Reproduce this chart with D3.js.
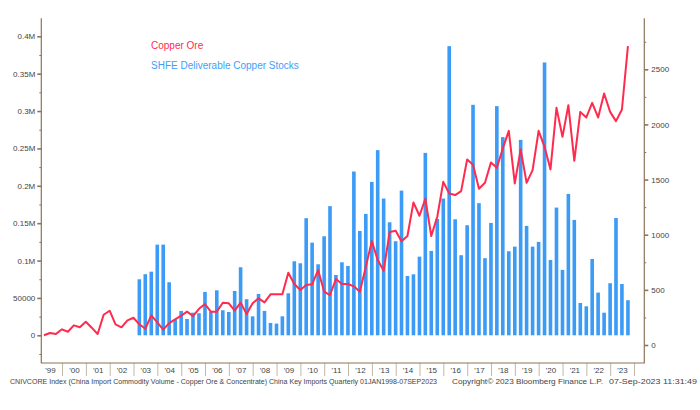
<!DOCTYPE html>
<html>
<head>
<meta charset="utf-8">
<script src="https://cdn.jsdelivr.net/npm/d3@7"></script>
<style>
  body { margin: 0; background: #fff; }
  svg { display: block; font-family: "Liberation Sans", Arial, sans-serif; }
</style>
</head>
<body>
<div id="chart"></div>
<script>
// --- DATA ---
// Copper ore & concentrate imports, quarterly, 1999Q1 .. 2023Q3 (left axis)
const oreStartYear = 1999;
const oreValues = [
    0, 3100, 1700, 8000,
    4800, 13300, 10700, 18200,
    10200, 1700, 27500, 32900,
    14700, 10700, 20000, 23500,
    14700, 8800, 26700, 17400,
    7500, 16400, 21400, 26200,
    31600, 25800, 35500, 41800,
    31600, 31600, 43600, 42800,
    32900, 43600, 28500, 42800,
    49500, 44100, 54800, 54800,
    54800, 83700, 68600, 60600,
    67200, 68200, 87300, 58300,
    53900, 75300, 68600, 68600,
    65500, 58300, 91700, 126000,
    100700, 86400, 138100, 139800,
    125700, 132800, 177800, 159900,
    182600, 132800, 158600, 205300,
    189800, 187600, 192900, 235300,
    228100, 196000, 204000, 231300,
    224100, 250000, 273500, 203200,
    248700, 204000, 221000, 273500,
    252100, 221900, 304300, 265500,
    307900, 233400, 298900, 291400,
    311000, 291400, 323500, 298900,
    286500, 302100, 386800
];

// SHFE deliverable copper stocks, quarterly, 2003Q1 .. 2023Q3 (right axis)
const stockStartYear = 2003;
const stockValues = [
    596, 642, 665, 910,
    910, 569, 233, 309,
    236, 293, 288, 481,
    302, 496, 315, 299,
    490, 705, 415, 260,
    463, 309, 200, 194,
    260, 469, 759, 741,
    1150, 928, 732, 986,
    1259, 635, 750, 717,
    1573, 1034, 1189, 1479,
    1767, 1328, 1113, 941,
    1400, 626, 641, 801,
    1742, 853, 1143, 1328,
    2710, 1140, 814, 1086,
    2178, 1286, 787, 1107,
    2166, 1885, 850, 892,
    1860, 1080, 892, 935,
    2562, 771, 1246, 681,
    1370, 1134, 381, 351,
    780, 475, 293, 560,
    1152, 553, 406
];

const years = d3.range(1999, 2024);
const leftTicks = [0, 50000, 100000, 150000, 200000, 250000, 300000, 350000, 400000];
const leftTickLabels = ["0", "50000", "0.1M", "0.15M", "0.2M", "0.25M", "0.3M", "0.35M", "0.4M"];
const leftMinor = [-25000, 25000, 75000, 125000, 175000, 225000, 275000, 325000, 375000];
const rightTicks = [0, 500, 1000, 1500, 2000, 2500];
const rightMinor = [250, 750, 1250, 1750, 2250, 2750];

const legendItems = [
    { label: "Copper Ore", color: "#ff2a4d" },
    { label: "SHFE Deliverable Copper Stocks", color: "#3e9ef7" }
];

const footer = [
    { text: "CNIVCORE Index (China Import Commodity Volume - Copper Ore & Concentrate) China Key Imports  Quarterly 01JAN1998-07SEP2023", x: 10, len: 427 },
    { text: "Copyright\u00a9 2023 Bloomberg Finance L.P.", x: 452, len: 151 },
    { text: "07-Sep-2023 11:31:49", x: 609, len: 88 }
];

// quarter-end date for index i of a series starting in startYear
const quarterEnd = (startYear, i) => new Date(startYear + Math.floor(i / 4), (i % 4) * 3 + 3, 0);

const oreData = oreValues.map((v, i) => ({ date: quarterEnd(oreStartYear, i), value: v }));
const stockData = stockValues.map((v, i) => ({ date: quarterEnd(stockStartYear, i), value: v }));

// --- LAYOUT ---
const width = 700, height = 410;
const plot = { left: 41.3, right: 644.3, top: 18.3, bottom: 363 };
const axisColor = "#8c7458";
const textColor = "#444";

const svg = d3.select("#chart").append("svg")
    .attr("width", width)
    .attr("height", height);

// --- SCALES ---
const x = d3.scaleTime()
    .domain([new Date(1999, 0, 1), new Date(2024, 0, 1)])
    .range([38.2, 634]);
const yL = d3.scaleLinear().domain([0, 400000]).range([335.3, 36.3]);
const yR = d3.scaleLinear().domain([0, 2500]).range([345, 69.3]);

// --- BARS ---
const barW = 3.6;
svg.append("g").selectAll("rect")
    .data(stockData)
    .enter().append("rect")
    .attr("x", d => x(d.date) - barW / 2)
    .attr("y", d => yR(d.value))
    .attr("width", barW)
    .attr("height", d => yL(0) - yR(d.value))
    .attr("fill", "#3b9bf7");

// --- LINE ---
const line = d3.line()
    .x(d => x(d.date))
    .y(d => yL(d.value));

svg.append("path")
    .datum(oreData)
    .attr("d", line)
    .attr("fill", "none")
    .attr("stroke", "#ff2a4d")
    .attr("stroke-width", 2)
    .attr("stroke-linejoin", "round");

// --- AXES ---
function styleAxis(g) {
    g.select(".domain").remove();
    g.selectAll(".tick line").attr("stroke", axisColor);
    g.selectAll(".tick text")
        .attr("fill", textColor)
        .style("font-size", "8px")
        .style("font-family", '"Liberation Sans", Arial, sans-serif');
}

// left
svg.append("g")
    .attr("transform", `translate(${plot.left},0)`)
    .call(d3.axisLeft(yL).tickValues(leftTicks)
        .tickFormat((d, i) => leftTickLabels[i]).tickSize(4).tickPadding(2))
    .call(styleAxis)
    .call(g => g.selectAll(".tick line").attr("stroke-width", 1.6));
svg.append("g")
    .attr("transform", `translate(${plot.left},0)`)
    .call(d3.axisLeft(yL).tickValues(leftMinor).tickFormat("").tickSize(2))
    .call(styleAxis);

// right
svg.append("g")
    .attr("transform", `translate(${plot.right},0)`)
    .call(d3.axisRight(yR).tickValues(rightTicks)
        .tickFormat(d3.format("d")).tickSize(4).tickPadding(3))
    .call(styleAxis)
    .call(g => g.selectAll(".tick line").attr("stroke-width", 1.6));
svg.append("g")
    .attr("transform", `translate(${plot.right},0)`)
    .call(d3.axisRight(yR).tickValues(rightMinor).tickFormat("").tickSize(2))
    .call(styleAxis);

// bottom: year separators and centred year labels
svg.append("g")
    .attr("transform", `translate(0,${plot.bottom})`)
    .call(d3.axisBottom(x).tickValues(years.map(y => new Date(y + 1, 0, 1)))
        .tickFormat("").tickSize(13))
    .call(styleAxis)
    .call(g => g.selectAll(".tick line").attr("stroke", "#c4b8a6"));
svg.append("g")
    .attr("transform", `translate(0,${plot.bottom})`)
    .call(d3.axisBottom(x).tickValues(years.map(y => new Date(y, 6, 1)))
        .tickFormat(d3.timeFormat("'%y")).tickSize(0).tickPadding(4))
    .call(styleAxis);

// frame lines
svg.append("path")
    .attr("d", `M${plot.left},${plot.top}V${plot.bottom}H${plot.right}V${plot.top}`)
    .attr("fill", "none")
    .attr("stroke", axisColor)
    .attr("stroke-width", 1.2);

// --- LEGEND ---
svg.append("g").selectAll("text")
    .data(legendItems)
    .enter().append("text")
    .attr("x", 151)
    .attr("y", (d, i) => 48.5 + i * 20)
    .attr("fill", d => d.color)
    .style("font-size", "10px")
    .text(d => d.label);

// --- FOOTER ---
svg.append("g").selectAll("text")
    .data(footer)
    .enter().append("text")
    .attr("x", d => d.x)
    .attr("y", 384)
    .attr("fill", textColor)
    .attr("textLength", d => d.len)
    .attr("lengthAdjust", "spacingAndGlyphs")
    .style("font-size", "7px")
    .text(d => d.text);
</script>
</body>
</html>
